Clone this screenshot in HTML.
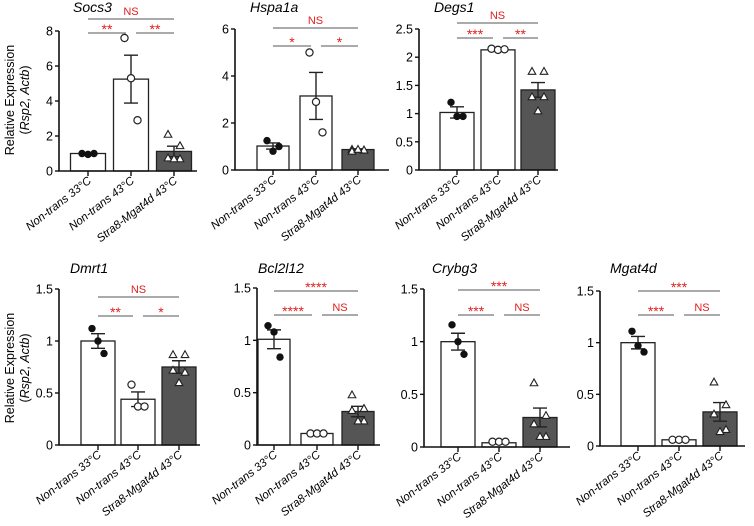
<!DOCTYPE html>
<html><head><meta charset="utf-8">
<style>
body{margin:0;background:#fff;}
svg{display:block;font-family:"Liberation Sans",Arial,sans-serif;}
</style></head>
<body>
<svg id="fig" width="754" height="526" viewBox="0 0 754 526">
<text transform="translate(14,100) rotate(-90)" text-anchor="middle" font-size="12.5">Relative Expression</text>
<text transform="translate(29,100) rotate(-90)" text-anchor="middle" font-size="12.5">(<tspan font-style="italic">Rsp2, Actb</tspan>)</text>
<text transform="translate(14,368) rotate(-90)" text-anchor="middle" font-size="12.5">Relative Expression</text>
<text transform="translate(29,368) rotate(-90)" text-anchor="middle" font-size="12.5">(<tspan font-style="italic">Rsp2, Actb</tspan>)</text>
</svg>
<script>
// ---- data ----
const categories = ["Non-trans 33°C","Non-trans 43°C","Stra8-Mgat4d 43°C"];
const genes = ["Socs3","Hspa1a","Degs1","Dmrt1","Bcl2l12","Crybg3","Mgat4d"];
const yMax = [8,6,2.5,1.5,1.5,1.5,1.5];
const tickLabels = [
 ["0","2","4","6","8"],["0","2","4","6"],["0","0.5","1","1.5","2","2.5"],
 ["0","0.5","1","1.5"],["0","0.5","1","1.5"],["0","0.5","1","1.5"],["0","0.5","1","1.5"]];
const means = [[1.0,5.25,1.12],[1.02,3.15,0.87],[1.02,2.13,1.42],[1.0,0.44,0.75],[1.01,0.11,0.32],[1.0,0.04,0.28],[1.0,0.06,0.33]];
const sems = [[0.05,1.37,0.3],[0.13,1.0,0.03],[0.1,0.01,0.13],[0.07,0.07,0.06],[0.09,0.01,0.05],[0.08,0.01,0.09],[0.06,0.01,0.09]];
const ptsG1 = [[1.0,0.95,1.0],[1.25,0.8,1.0],[1.2,0.95,0.95],[1.12,1.0,0.88],[1.14,1.08,0.84],[1.16,1.0,0.88],[1.11,0.97,0.91]];
const ptsG2 = [[7.6,5.3,2.9],[5.0,2.9,1.6],[2.15,2.13,2.14],[0.58,0.37,0.37],[0.11,0.11,0.11],[0.05,0.05,0.05],[0.06,0.06,0.06]];
const ptsG3 = [[2.1,1.45,0.75,0.7,0.7],[0.88,0.85,0.8,0.85,0.88],[1.75,1.75,1.3,1.3,1.05],[0.87,0.87,0.72,0.7,0.6],[0.48,0.35,0.33,0.23,0.23],[0.61,0.3,0.22,0.1,0.1],[0.62,0.4,0.31,0.16,0.14]];
const sigTop = ["NS","NS","NS","NS","****","***","***"];
const sigLeft = ["**","*","***","**","****","***","***"];
const sigRight = ["**","*","**","*","NS","NS","NS"];

// ---- layout (positions, not data) ----
const layout = [
 {ax:59, y0:171, y1:31, c:[88,131,174], bw:35, xEnd:197, tx:73, ty:12, bt:19, bl:33},
 {ax:235,y0:170, y1:29, c:[273,316,358], bw:32, xEnd:389, tx:250, ty:12, bt:28, bl:46},
 {ax:419,y0:170, y1:29, c:[457,498,538], bw:34, xEnd:558, tx:434, ty:12, bt:23, bl:38},
 {ax:59, y0:445, y1:289, c:[98,138,179], bw:34, xEnd:200, tx:70, ty:273, bt:297, bl:316},
 {ax:257,y0:445, y1:288, c:[274,317,358], bw:32, xEnd:380, tx:258, ty:273, bt:291, bl:315},
 {ax:424,y0:447, y1:289, c:[458,499,540], bw:34, xEnd:570, tx:432, ty:273, bt:290, bl:315},
 {ax:600,y0:446, y1:291, c:[638,679,720], bw:34, xEnd:745, tx:610, ty:273, bt:291, bl:315}];

const svg = document.getElementById('fig');
const NS = 'http://www.w3.org/2000/svg';
function mk(tag, attrs, parent){
  const e = document.createElementNS(NS, tag);
  for (const k in attrs) e.setAttribute(k, attrs[k]);
  (parent||svg).appendChild(e);
  return e;
}
const fills = ['#fff','#fff','#555'];
genes.forEach((g,i)=>{
  const L = layout[i];
  const y = v => L.y0 - v/yMax[i]*(L.y0-L.y1);
  const grp = mk('g',{});
  
  
  const t = mk('text',{x:L.tx,y:L.ty,'font-size':14,'font-style':'italic'},grp);
  t.textContent = g;
  
  
  means[i].forEach((m,j)=>{
    const r = mk('rect',{x:L.c[j]-L.bw/2,y:y(m),width:L.bw,height:L.y0-y(m),fill:fills[j],stroke:'#222','stroke-width':1.3},grp);
    
    
  });
  means[i].forEach((m,j)=>{
    const s = sems[i][j], cx=L.c[j];
    const eb = mk('path',{d:`M${cx},${y(m-s)}V${y(m+s)}M${cx-7},${y(m+s)}H${cx+7}M${cx-7},${y(m-s)}H${cx+7}`,stroke:'#222','stroke-width':1.4,fill:'none'},grp);
    
    
  });
  const off3=[-5,0,5], off5=[-6,6,-6,6,0];
  ptsG1[i].forEach((v,k)=>{
    const p = mk('circle',{cx:L.c[0]+off3[k]*1.2,cy:y(v),r:3.7,fill:'#111'},grp);
    
    
  });
  ptsG2[i].forEach((v,k)=>{
    const p = mk('circle',{cx:L.c[1]+off3[k]*1.3,cy:y(v),r:3.6,fill:'#fff',stroke:'#222','stroke-width':1.2},grp);
    
    
  });
  ptsG3[i].forEach((v,k)=>{
    const cx=L.c[2]+off5[k], cy=y(v);
    const p = mk('path',{d:`M${cx},${cy-3.8}L${cx+3.8},${cy+3}L${cx-3.8},${cy+3}Z`,fill:'#fff',stroke:'#222','stroke-width':1.1},grp);
    
    
  });
  const ax = mk('path',{d:`M${L.ax},${L.y1}V${L.y0}H${L.xEnd}`,stroke:'#111','stroke-width':1.6,fill:'none'},grp);
  
  
  tickLabels[i].forEach((lab,k)=>{
    const v = parseFloat(lab), ty=y(v);
    mk('line',{x1:L.ax-4,x2:L.ax,y1:ty,y2:ty,stroke:'#111','stroke-width':1.4},grp);
    const tl = mk('text',{x:L.ax-6,y:ty+4.5,'text-anchor':'end','font-size':12.5},grp);
    tl.textContent = lab;
    
    
  });
  categories.forEach((c,j)=>{
    const cx=L.c[j];
    mk('line',{x1:cx,x2:cx,y1:L.y0,y2:L.y0+5,stroke:'#111','stroke-width':1.4},grp);
    const xl = mk('text',{transform:`translate(${cx+4},${L.y0+11}) rotate(-38)`,'text-anchor':'end','font-size':11.5,'font-style':'italic'},grp);
    xl.textContent = c;
    
    
  });
  function br(x1,x2,yy,txt){
    mk('line',{x1:x1,x2:x2,y1:yy,y2:yy,stroke:'#555','stroke-width':1.1},grp);
    const st = mk('text',{x:(x1+x2)/2,y:yy-(txt==='NS'?4:-1),'text-anchor':'middle','font-size':txt==='NS'?11:14,fill:'#e0201f'},grp);
    st.textContent = txt;
    
    
  }
  br(L.c[0],L.c[2],L.bt,sigTop[i]);
  br(L.c[0],L.c[1]-5,L.bl,sigLeft[i]);
  br(L.c[1]+5,L.c[2],L.bl,sigRight[i]);
});
</script>
</body></html>
